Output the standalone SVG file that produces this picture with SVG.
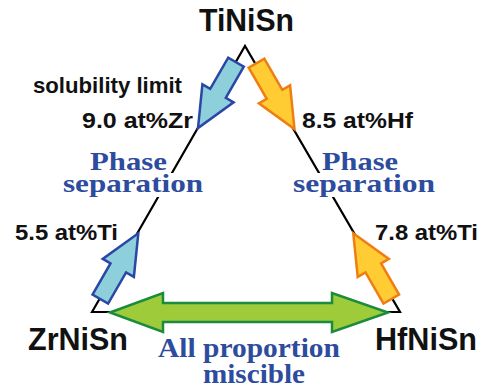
<svg xmlns="http://www.w3.org/2000/svg" xmlns:xlink="http://www.w3.org/1999/xlink" width="484" height="390" viewBox="0 0 484 390">
<style>
.lbl{font-family:"Liberation Sans",Arial,sans-serif;font-weight:bold;fill:#111;}
.big{font-size:32px;}
.sm{font-size:22.5px;}
.blu{font-family:"Liberation Serif","Times New Roman",serif;font-weight:bold;fill:#2D4C9E;font-size:26px;}
.edge{fill:none;stroke:#000;stroke-width:2.2;stroke-linejoin:miter;}
.ab{fill:#8DD0DC;stroke:#2A46A6;stroke-width:2.5;stroke-linejoin:miter;}
.ao{fill:#FFCC33;stroke:#F07D12;stroke-width:2.5;stroke-linejoin:miter;}
.ag{fill:#9DCB3A;stroke:#1B8C3D;stroke-width:2.5;stroke-linejoin:miter;}
</style>
<defs>
<path id="arr" d="M0,-9 L36,-9 L36,-18 L76,0 L36,18 L36,9 L0,9 Z"/>
</defs>
<rect width="484" height="390" fill="#fff"/>
<g id="connectors">
<path class="edge" d="M92,312 L245,46 L400,312 Z"/>
<rect x="62" y="173" width="142" height="24" fill="#fff"/>
<rect x="292" y="173" width="144" height="24" fill="#fff"/>
<use xlink:href="#arr" class="ab" transform="translate(236,62.2) rotate(120)"/>
<use xlink:href="#arr" class="ao" transform="translate(256.5,63.2) rotate(60)"/>
<use xlink:href="#arr" class="ab" transform="translate(100.3,299.1) rotate(-60)"/>
<use xlink:href="#arr" class="ao" transform="translate(391.3,299.1) rotate(-120)"/>
<path class="ag" d="M110,312.5 L163,293 L163,303 L332,303 L332,293 L388,312.5 L332,332 L332,322 L163,322 L163,332 Z"/>
</g>
<g id="TiNiSn"><text class="lbl big" x="199" y="31" textLength="95" lengthAdjust="spacingAndGlyphs">TiNiSn</text></g>
<g id="ZrNiSn"><text class="lbl big" x="28" y="350" textLength="100" lengthAdjust="spacingAndGlyphs">ZrNiSn</text></g>
<g id="HfNiSn"><text class="lbl big" x="375" y="350" textLength="102" lengthAdjust="spacingAndGlyphs">HfNiSn</text></g>
<g id="labels">
<text class="lbl sm" x="33" y="93" textLength="149" lengthAdjust="spacingAndGlyphs">solubility limit</text>
<text class="lbl sm" x="82" y="128" textLength="111" lengthAdjust="spacingAndGlyphs">9.0 at%Zr</text>
<text class="lbl sm" x="302" y="128" textLength="111" lengthAdjust="spacingAndGlyphs">8.5 at%Hf</text>
<text class="lbl sm" x="15" y="240" textLength="103" lengthAdjust="spacingAndGlyphs">5.5 at%Ti</text>
<text class="lbl sm" x="375" y="240" textLength="103" lengthAdjust="spacingAndGlyphs">7.8 at%Ti</text>
</g>
<g id="phase-left">
<text class="blu" x="90" y="170" textLength="77" lengthAdjust="spacingAndGlyphs">Phase</text>
<text class="blu" x="63" y="192" textLength="140" lengthAdjust="spacingAndGlyphs">separation</text>
</g>
<g id="phase-right">
<text class="blu" x="322" y="170" textLength="76" lengthAdjust="spacingAndGlyphs">Phase</text>
<text class="blu" x="293" y="192" textLength="142" lengthAdjust="spacingAndGlyphs">separation</text>
</g>
<g id="miscible">
<text class="blu" style="font-size:27px" x="158" y="357" textLength="182" lengthAdjust="spacingAndGlyphs">All proportion</text>
<text class="blu" style="font-size:27px" x="203" y="383" textLength="102" lengthAdjust="spacingAndGlyphs">miscible</text>
</g>
</svg>
